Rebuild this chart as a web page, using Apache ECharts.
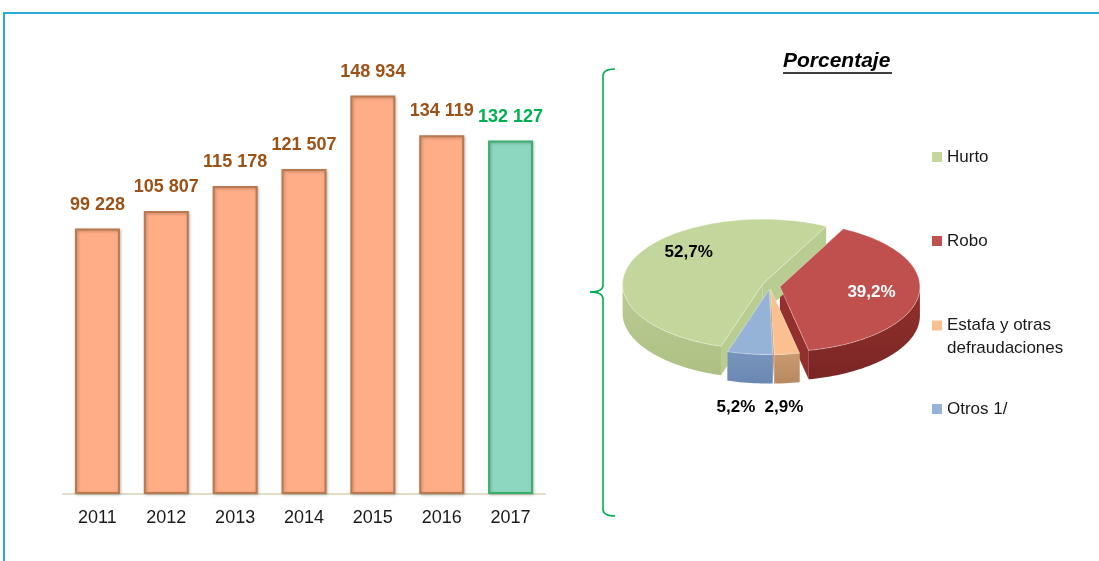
<!DOCTYPE html>
<html>
<head>
<meta charset="utf-8">
<script src="https://cdn.jsdelivr.net/npm/echarts@6/dist/echarts.min.js"></script>
<style>
  html, body { margin: 0; padding: 0; background: #fff; }
  #chart { width: 1099px; height: 561px; }
</style>
</head>
<body>
<div id="chart"></div>
<script>
// datos de las barras
const years = ['2011', '2012', '2013', '2014', '2015', '2016', '2017'];
const casos = [99228, 105807, 115178, 121507, 148934, 134119, 132127];

// datos del pastel (en orden horario desde el corte superior)
const tipos = ['Robo', 'Estafa y otras defraudaciones', 'Otros 1/', 'Hurto'];
const porcentajes = [39.2, 2.9, 5.2, 52.7];
const leyenda = ['Hurto', 'Robo', 'Estafa y otras defraudaciones', 'Otros 1/'];

const SANS = "'Liberation Sans', Arial, sans-serif";

const fmtMiles = v => String(v).replace(/\B(?=(\d{3})+(?!\d))/g, ' ');
const fmtPct = v => v.toFixed(1).replace('.', ',') + '%';

// geometria del pastel 3D
const PIE = { cx: 770, cy: 286, rx: 140, ry: 65, depth: 29, start: 27 };
const explode = [10, 6, 6, 8];
const topColors = ['#c0504d', '#fac090', '#95b3d7', '#c3d69b'];
const sideColors = ['#7a2624', '#b8895f', '#6a87b2', '#adc185'];
const cutColors = ['#93302d', '#c99a70', '#7895bd', '#b9cc92'];
const labelColors = ['#ffffff', '#000000', '#000000', '#000000'];
// donde va cada etiqueta: dentro (f = fraccion del radio) o debajo
const labelAt = [
  { f: 0.66, dx: 0, dy: 0 },
  { out: true, dx: -3, dy: 0 },
  { out: true, dx: -14, dy: 0 },
  { f: 0.57, dx: 0, dy: -18 }
];

const total = porcentajes.reduce((a, b) => a + b, 0);

function rim(cx, cy, deg) {
  const r = deg * Math.PI / 180;
  return [cx + PIE.rx * Math.sin(r), cy - PIE.ry * Math.cos(r)];
}

function renderSlice(i) {
  return function (params, api) {
    const v = api.value(0);
    let before = 0;
    for (let k = 0; k < i; k++) before += porcentajes[k];
    const a0 = PIE.start + before / total * 360;
    const a1 = a0 + v / total * 360;
    const midDeg = (a0 + a1) / 2;
    const mid = midDeg * Math.PI / 180;
    const cx = PIE.cx + explode[i] * Math.sin(mid);
    const cy = PIE.cy - explode[i] * Math.cos(mid) * 0.6;
    const d = PIE.depth;
    const children = [];

    // caras de corte
    [a0, a1].forEach(a => {
      const p = rim(cx, cy, a);
      children.push({
        type: 'polygon', z2: 1,
        shape: { points: [[cx, cy], p, [p[0], p[1] + d], [cx, cy + d]] },
        style: { fill: cutColors[i] }
      });
    });

    // pared exterior (solo mitad frontal)
    const w0 = Math.max(a0, 90), w1 = Math.min(a1, 270);
    if (w1 > w0) {
      const up = [], down = [];
      for (let a = w0; a < w1; a += 1.5) up.push(rim(cx, cy, a));
      up.push(rim(cx, cy, w1));
      for (let k = up.length - 1; k >= 0; k--) down.push([up[k][0], up[k][1] + d]);
      children.push({
        type: 'polygon', z2: 2,
        shape: { points: up.concat(down) },
        style: {
          fill: {
            type: 'linear', x: 0, y: 0, x2: 0, y2: 1,
            colorStops: [
              { offset: 0, color: cutColors[i] },
              { offset: 1, color: sideColors[i] }
            ]
          }
        }
      });
    }

    // cara superior
    const top = [[cx, cy]];
    for (let a = a0; a < a1; a += 1.5) top.push(rim(cx, cy, a));
    top.push(rim(cx, cy, a1));
    children.push({
      type: 'polygon', z2: 5,
      shape: { points: top },
      style: { fill: topColors[i], stroke: 'rgba(255,255,255,0.35)', lineWidth: 1 }
    });

    // etiqueta
    const L = labelAt[i];
    let lx, ly;
    if (L.out) {
      const p = rim(cx, cy, midDeg);
      lx = p[0] + L.dx;
      ly = p[1] + d + 24 + L.dy;
    } else {
      lx = cx + PIE.rx * L.f * Math.sin(mid) + L.dx;
      ly = cy - PIE.ry * L.f * Math.cos(mid) + L.dy;
    }
    children.push({
      type: 'text', z2: 10,
      style: {
        x: lx, y: ly, text: fmtPct(v),
        fill: labelColors[i], font: 'bold 17px ' + SANS,
        align: 'center', verticalAlign: 'middle'
      }
    });
    return { type: 'group', children: children };
  };
}

const pieSeries = tipos.map((name, i) => ({
  type: 'custom',
  name: name,
  coordinateSystem: 'none',
  silent: true,
  itemStyle: { color: topColors[i] },
  data: [[porcentajes[i]]],
  renderItem: renderSlice(i)
}));

const legendBase = {
  orient: 'vertical', left: 932, padding: 0,
  itemWidth: 10, itemHeight: 10, itemGap: 0,
  icon: 'rect', selectedMode: false,
  itemStyle: { borderWidth: 0 },
  textStyle: { fontFamily: SANS, fontSize: 17, color: '#1a1a1a', lineHeight: 20 }
};

const green = { stroke: '#00b050', lineWidth: 1.6, fill: null };

const chart = echarts.init(document.getElementById('chart'));
chart.setOption({
  animation: false,
  grid: { left: 63, right: 554, top: 66, bottom: 67 },
  xAxis: {
    type: 'category',
    data: years,
    axisLine: { lineStyle: { color: '#d8d3b6', width: 1.5 } },
    axisTick: { inside: true, length: 5, lineStyle: { color: '#d8d3b6', width: 1.5 } },
    axisLabel: { color: '#1a1a1a', fontFamily: SANS, fontSize: 18, margin: 15 }
  },
  yAxis: { type: 'value', min: 0, max: 160000, show: false },
  legend: [
    Object.assign({}, legendBase, { top: 147, data: [leyenda[0]] }),
    Object.assign({}, legendBase, { top: 231, data: [leyenda[1]] }),
    Object.assign({}, legendBase, {
      top: 314, data: [leyenda[2]],
      itemHeight: 33,
      icon: 'path://M0,0h10v10h-10zM0,33h0.01v0.01h-0.01z',
      formatter: () => 'Estafa y otras\ndefraudaciones',
      textStyle: Object.assign({}, legendBase.textStyle, { lineHeight: 23 })
    }),
    Object.assign({}, legendBase, { top: 399, data: [leyenda[3]] })
  ],
  graphic: [
    // marco
    {
      type: 'polyline', silent: true,
      shape: { points: [[4, 561], [4, 13], [1099, 13]] },
      style: { stroke: '#2aa8e0', lineWidth: 2, fill: null }
    },
    // llave
    { type: 'bezierCurve', silent: true, shape: { x1: 615, y1: 69, x2: 603, y2: 76, cpx1: 603, cpy1: 69 }, style: green },
    { type: 'line', silent: true, shape: { x1: 603, y1: 76, x2: 603, y2: 285 }, style: green },
    { type: 'bezierCurve', silent: true, shape: { x1: 603, y1: 285, x2: 590, y2: 292, cpx1: 603, cpy1: 292 }, style: green },
    { type: 'bezierCurve', silent: true, shape: { x1: 590, y1: 292, x2: 603, y2: 299, cpx1: 603, cpy1: 292 }, style: green },
    { type: 'line', silent: true, shape: { x1: 603, y1: 299, x2: 603, y2: 509 }, style: green },
    { type: 'bezierCurve', silent: true, shape: { x1: 603, y1: 509, x2: 615, y2: 516, cpx1: 603, cpy1: 516 }, style: green },
    // titulo
    {
      type: 'text', left: 783, top: 51,
      style: { text: 'Porcentaje', font: 'italic bold 21px ' + SANS, fill: '#000' }
    },
    {
      type: 'line', silent: true,
      shape: { x1: 783, y1: 73, x2: 892, y2: 73 },
      style: { stroke: '#000', lineWidth: 1.5 }
    }
  ],
  series: [
    {
      type: 'bar',
      name: 'Casos',
      barWidth: 45,
      data: casos.map((v, i) => i === casos.length - 1
        ? { value: v, itemStyle: { color: '#8dd7c0', borderColor: '#3aae6a' }, label: { color: '#00b050' } }
        : v),
      itemStyle: {
        color: '#ffad87', borderColor: '#b7794d', borderWidth: 2,
        shadowColor: 'rgba(0,0,0,0.25)', shadowBlur: 3, shadowOffsetX: 1, shadowOffsetY: 1
      },
      label: {
        show: true, position: 'top', distance: 15,
        formatter: p => fmtMiles(p.value),
        color: '#9c5216', fontFamily: SANS, fontWeight: 'bold', fontSize: 18
      }
    }
  ].concat(pieSeries)
});
</script>
</body>
</html>
